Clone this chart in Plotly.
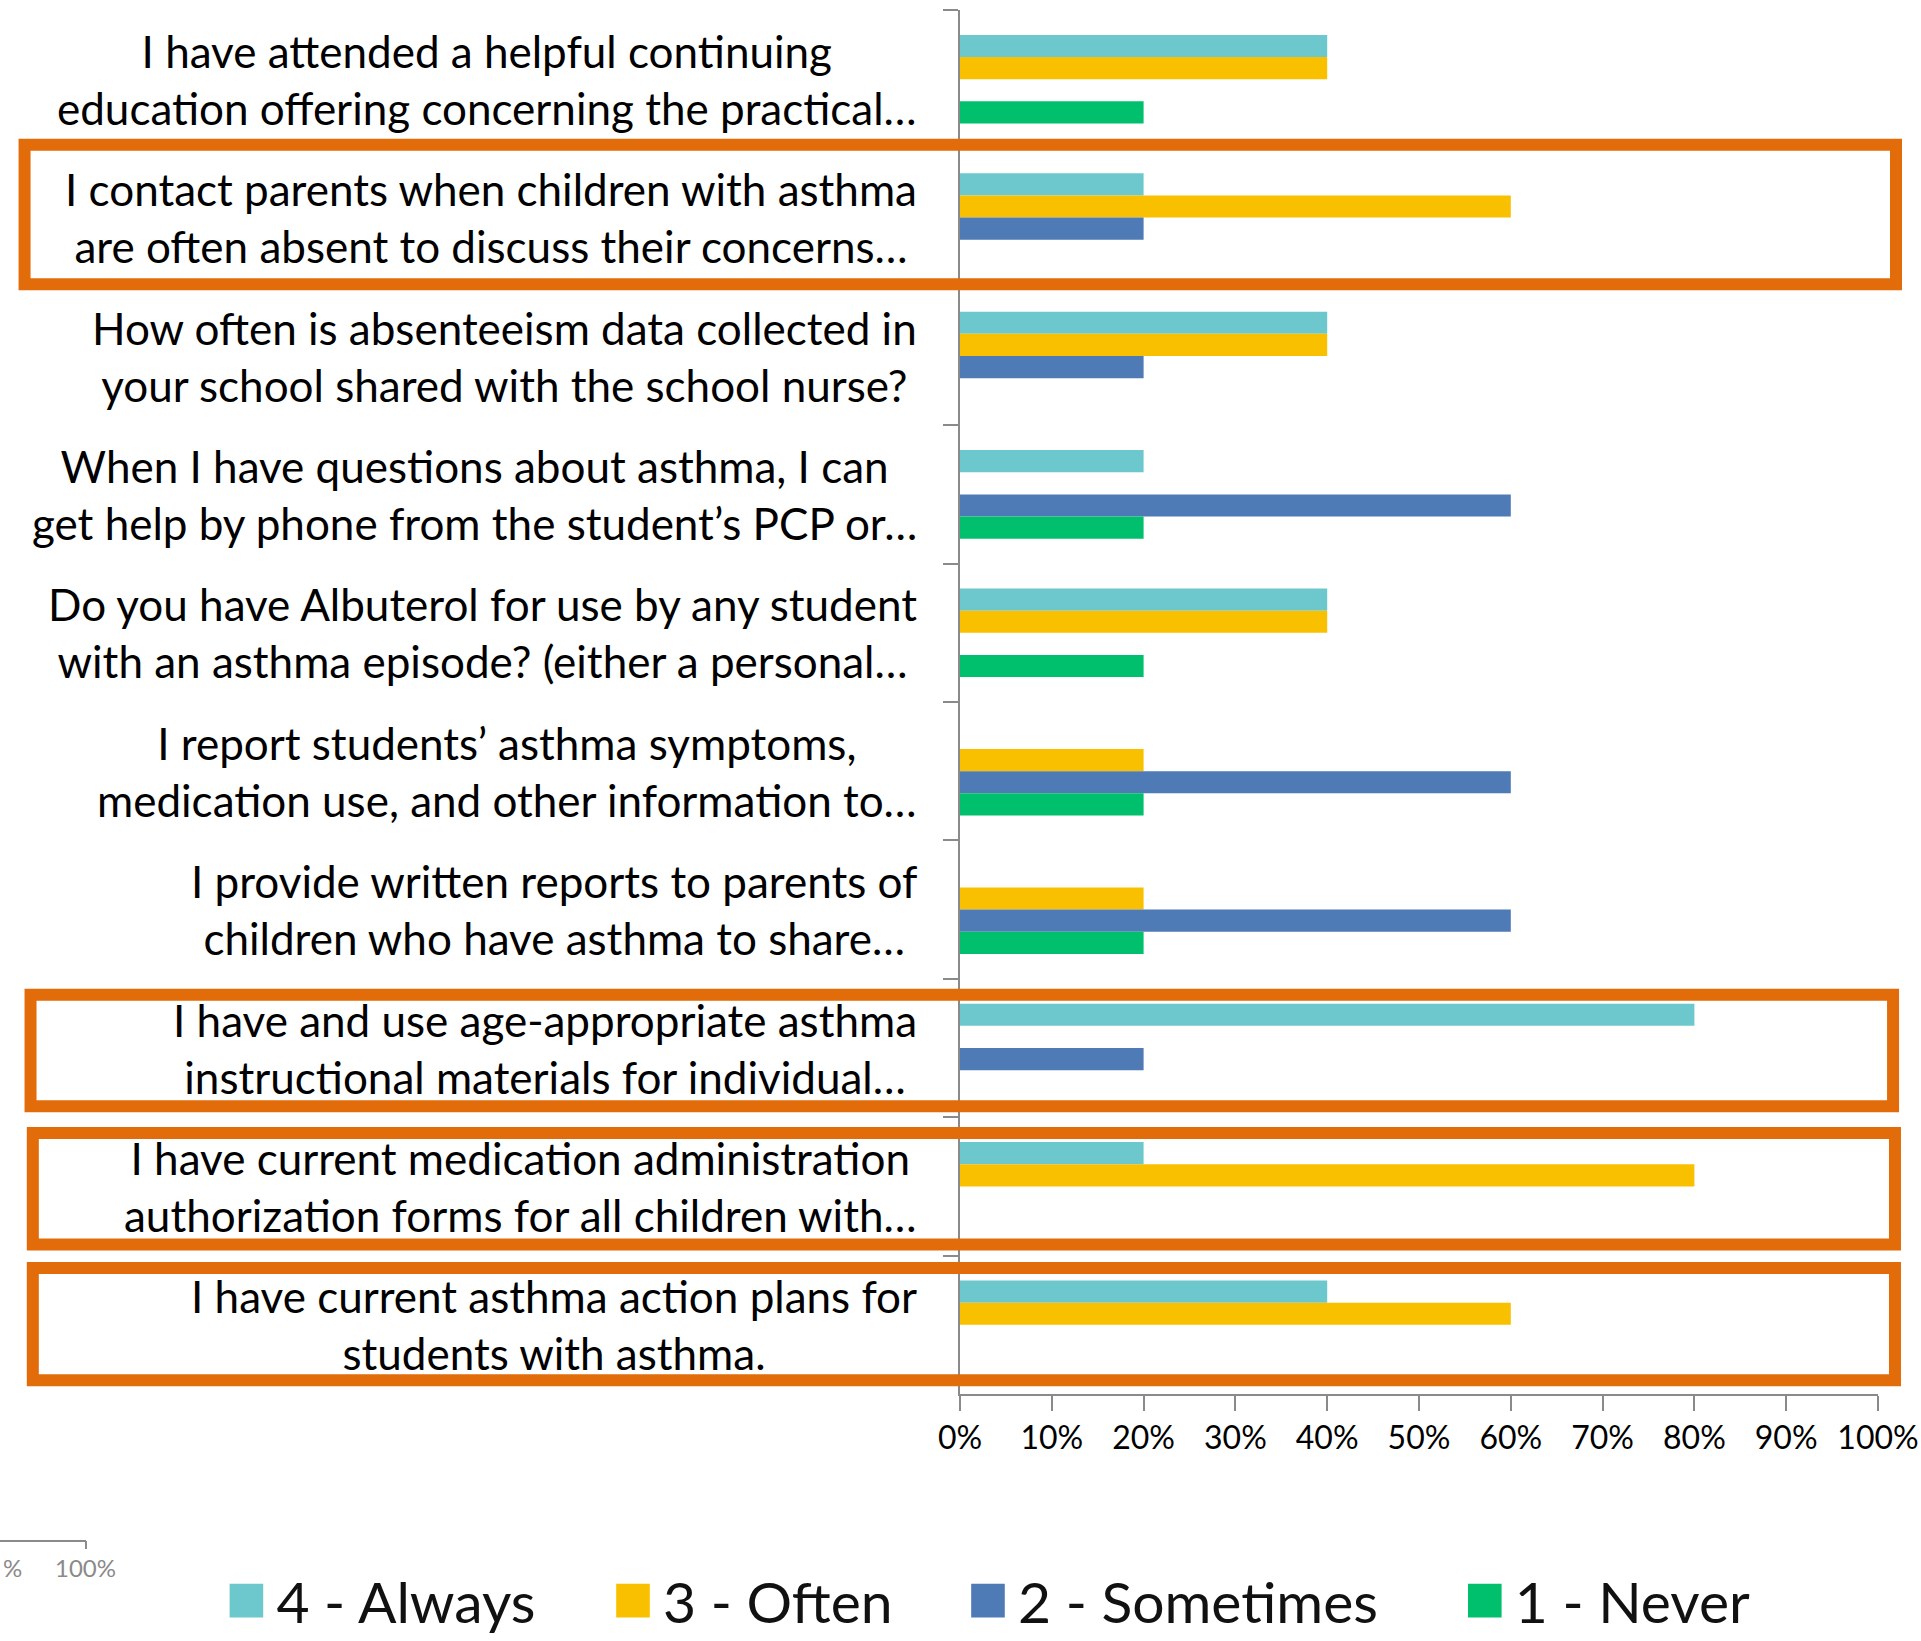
import plotly.graph_objects as go

categories = [
    "I have attended a helpful continuing<br>education offering concerning the practical…",
    "I contact parents when children with asthma<br>are often absent to discuss their concerns…",
    "How often is absenteeism data collected in<br>your school shared with the school nurse?",
    "When I have questions about asthma, I can<br>get help by phone from the student’s PCP or…",
    "Do you have Albuterol for use by any student<br>with an asthma episode? (either a personal…",
    "I report students’ asthma symptoms,<br>medication use, and other information to…",
    "I provide written reports to parents of<br>children who have asthma to share…",
    "I have and use age-appropriate asthma<br>instructional materials for individual…",
    "I have current medication administration<br>authorization forms for all children with…",
    "I have current asthma action plans for<br>students with asthma.",
]
always = [0.40, 0.20, 0.40, 0.20, 0.40, 0.00, 0.00, 0.80, 0.20, 0.40]
often = [0.40, 0.60, 0.40, 0.00, 0.40, 0.20, 0.20, 0.00, 0.80, 0.60]
sometimes = [0.00, 0.20, 0.20, 0.60, 0.00, 0.60, 0.60, 0.20, 0.00, 0.00]
never = [0.20, 0.00, 0.00, 0.20, 0.20, 0.20, 0.20, 0.00, 0.00, 0.00]
series_names = ["4 - Always", "3 - Often", "2 - Sometimes", "1 - Never"]
series_colors = ["#6CC8CC", "#F9C000", "#4E7AB5", "#00C06D"]
x_ticks = [0.0, 0.1, 0.2, 0.3, 0.4, 0.5, 0.6, 0.7, 0.8, 0.9, 1.0]

FONT = "Lato"
AXIS_GREY = "#8A8A8A"
ORANGE = "#E36C0A"

legend_ids = ["legend", "legend2", "legend3", "legend4"]
legend_x = [-0.810, -0.3889, -0.0022, 0.539]

fig = go.Figure()
for name, vals, col, lg in zip(series_names, [always, often, sometimes, never],
                               series_colors, legend_ids):
    fig.add_trace(go.Bar(
        y=categories, x=vals, name=name, orientation="h", legend=lg,
        marker=dict(color=col, line=dict(width=0)),
    ))

# category labels (centered lines, right-anchored next to the axis)
for c in categories:
    fig.add_annotation(
        x=-0.045, xref="paper", y=c, yref="y", text=c, showarrow=False,
        xanchor="right", yanchor="middle", align="center",
        font=dict(family=FONT, size=44, color="#000000"),
    )

# highlight boxes (stroke-centre positions in category units)
boxes = [(0.473, 1.482, -1.019, 1.0196), (6.615, 7.42, -1.0125, 1.0164),
         (7.615, 8.42, -1.010, 1.0185), (8.59, 9.40, -1.010, 1.0185)]
for y0, y1, x0, x1 in boxes:
    fig.add_shape(type="rect", xref="paper", yref="y", x0=x0, x1=x1, y0=y0, y1=y1,
                  line=dict(color=ORANGE, width=12), fillcolor="rgba(0,0,0,0)")

# stray axis fragment at bottom-left of the reference
fig.add_shape(type="line", xref="paper", yref="paper", x0=-1.06, x1=-0.9521,
              y0=-0.1062, y1=-0.1062, line=dict(color=AXIS_GREY, width=2))
fig.add_shape(type="line", xref="paper", yref="paper", x0=-0.9521, x1=-0.9521,
              y0=-0.1062, y1=-0.1120, line=dict(color=AXIS_GREY, width=2))
fig.add_annotation(x=-0.9521, xref="paper", y=-0.1250, yref="paper", text="100%",
                   showarrow=False, xanchor="center", yanchor="middle",
                   font=dict(family=FONT, size=24, color=AXIS_GREY))
fig.add_annotation(x=-1.0452, xref="paper", y=-0.1250, yref="paper", text="%",
                   showarrow=False, xanchor="left", yanchor="middle",
                   font=dict(family=FONT, size=24, color=AXIS_GREY))

legend_style = dict(orientation="h", xanchor="left", y=-0.1496, yanchor="middle",
                    font=dict(family=FONT, size=57, color="#111111"), itemwidth=50,
                    bgcolor="rgba(0,0,0,0)")
layout_legends = {lg: dict(legend_style, x=lx) for lg, lx in zip(legend_ids, legend_x)}

fig.update_layout(
    width=1921, height=1641,
    margin=dict(l=960, r=43, t=10, b=247, autoexpand=False),
    paper_bgcolor="white", plot_bgcolor="white",
    barmode="group", bargap=0.36, bargroupgap=0,
    showlegend=True,
    font=dict(family=FONT),
    **layout_legends,
)
fig.update_xaxes(
    range=[0, 1], tickvals=x_ticks, tickformat=".0%", showgrid=False, zeroline=False,
    showline=True, linecolor=AXIS_GREY, linewidth=2,
    ticks="outside", ticklen=15, tickcolor=AXIS_GREY, tickwidth=2,
    tickfont=dict(family=FONT, size=32, color="#000000"),
)
fig.update_yaxes(
    range=[len(categories) - 0.5, -0.5], showticklabels=False, showgrid=False,
    showline=True, linecolor=AXIS_GREY, linewidth=2,
    ticks="outside", tickson="boundaries", ticklen=15, tickcolor=AXIS_GREY, tickwidth=2,
)

post = """
document.body.style.margin = '0';
var gd = document.getElementById('{plot_id}');
gd.querySelectorAll('.legendpoints path').forEach(function(p){
  p.setAttribute('transform', (p.getAttribute('transform') || '') + ' scale(2.8)');
});
"""
fig.write_html("out.html", post_script=post, config={"displayModeBar": False})
